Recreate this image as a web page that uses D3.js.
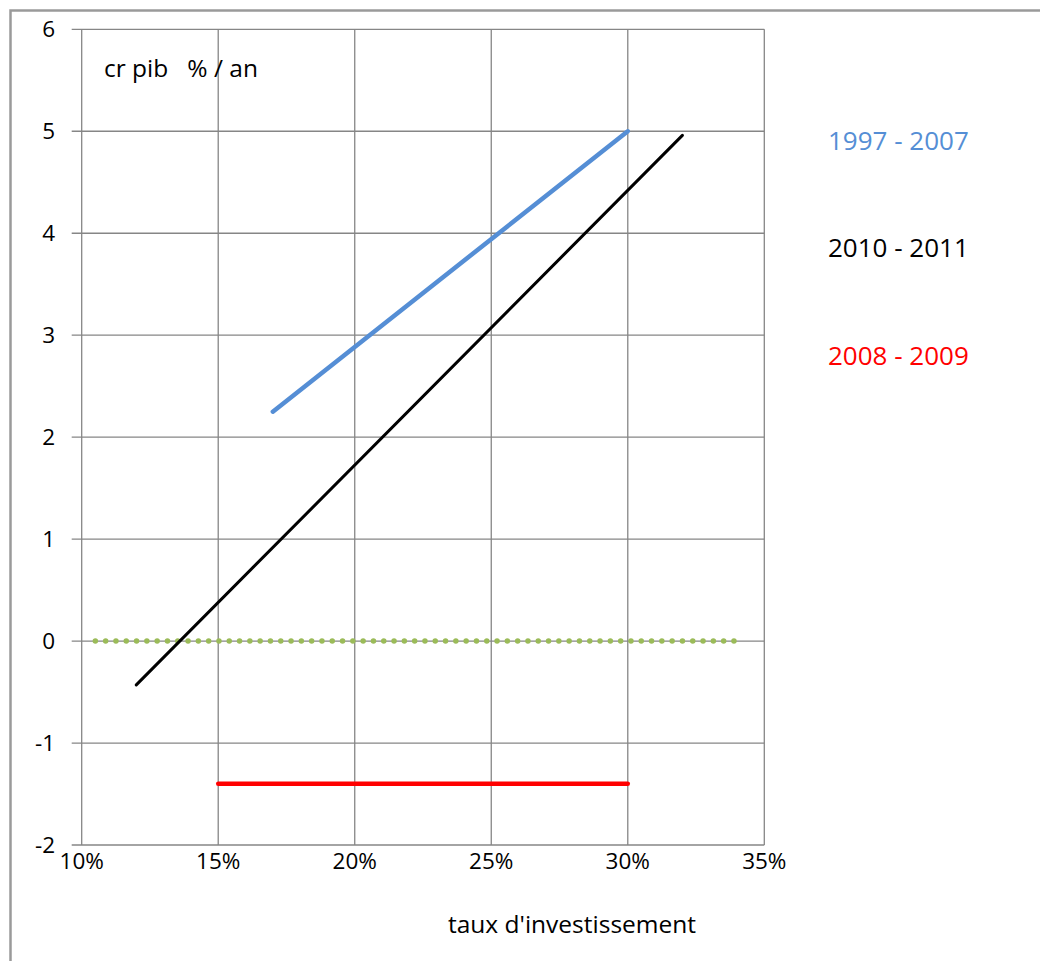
<!DOCTYPE html>
<html>
<head>
<meta charset="utf-8">
<script src="https://cdn.jsdelivr.net/npm/d3@7"></script>
<style>
  body { margin: 0; background: #fff; }
  text { font-family: "Open Sans", "Noto Sans", sans-serif; white-space: pre; }
</style>
</head>
<body>
<div id="chart"></div>
<script>
/* DATA */
var xTicks = [0.10, 0.15, 0.20, 0.25, 0.30, 0.35];
var yTicks = [-2, -1, 0, 1, 2, 3, 4, 5, 6];

var seriesNames = ["1997 - 2007", "2010 - 2011", "2008 - 2009"];
var seriesColors = ["#558ed5", "#000000", "#ff0000"];

var blueX = [0.17, 0.30];
var blueY = [2.25, 5.0];
var blackX = [0.12, 0.32];
var blackY = [-0.43, 4.96];
var redX = [0.15, 0.30];
var redY = [-1.4, -1.4];
var zeroX = [0.105, 0.342];
var zeroY = [0, 0];

/* SVG */
var width = 1040, height = 961;
var svg = d3.select("#chart").append("svg")
    .attr("width", width)
    .attr("height", height);

// chart area frame
svg.append("rect")
    .attr("x", 10.5).attr("y", 10.5)
    .attr("width", width + 20).attr("height", height + 20)
    .attr("fill", "none")
    .attr("stroke", "#9a9a9a")
    .attr("stroke-width", 2.5);

/* SCALES */
var x = d3.scaleLinear().domain([0.10, 0.35]).range([81.7, 764.3]);
var y = d3.scaleLinear().domain([-2, 6]).range([845, 29.3]);

/* GRID */
svg.append("g").selectAll("line")
    .data(yTicks).enter().append("line")
    .attr("x1", x(0.10) - 10).attr("x2", x(0.35))
    .attr("y1", function(d) { return y(d); })
    .attr("y2", function(d) { return y(d); })
    .attr("stroke", "#868686").attr("stroke-width", 1.3);

svg.append("g").selectAll("line")
    .data(xTicks).enter().append("line")
    .attr("x1", function(d) { return x(d); })
    .attr("x2", function(d) { return x(d); })
    .attr("y1", y(6)).attr("y2", y(-2))
    .attr("stroke", "#868686").attr("stroke-width", 1.3);

/* TICK LABELS */
svg.append("g").selectAll("text")
    .data(yTicks).enter().append("text")
    .attr("x", 55)
    .attr("y", function(d) { return y(d) + 8; })
    .attr("text-anchor", "end")
    .attr("font-size", 22.5)
    .attr("fill", "#000")
    .text(function(d) { return d; });

var fmt = d3.format(".0%");
svg.append("g").selectAll("text")
    .data(xTicks).enter().append("text")
    .attr("x", function(d) { return x(d); })
    .attr("y", 869)
    .attr("text-anchor", "middle")
    .attr("font-size", 22.5)
    .attr("fill", "#000")
    .text(function(d) { return fmt(d); });

svg.append("text")
    .attr("x", 572).attr("y", 933)
    .attr("text-anchor", "middle")
    .attr("font-size", 24.5)
    .attr("fill", "#000")
    .text("taux d'investissement");

svg.append("text")
    .attr("x", 104).attr("y", 77)
    .attr("font-size", 24.5)
    .attr("fill", "#000")
    .text("cr pib   % / an");

/* LINES */
var line = d3.line()
    .x(function(d) { return x(d[0]); })
    .y(function(d) { return y(d[1]); });

// zero reference, dotted green
svg.append("path")
    .attr("d", line(d3.zip(zeroX, zeroY)))
    .attr("fill", "none")
    .attr("stroke", "#9bbb59")
    .attr("stroke-width", 5.5)
    .attr("stroke-linecap", "round")
    .attr("stroke-dasharray", "0 10.3");

svg.append("path")
    .attr("d", line(d3.zip(blueX, blueY)))
    .attr("fill", "none")
    .attr("stroke", seriesColors[0])
    .attr("stroke-width", 4.5)
    .attr("stroke-linecap", "round");

svg.append("path")
    .attr("d", line(d3.zip(blackX, blackY)))
    .attr("fill", "none")
    .attr("stroke", seriesColors[1])
    .attr("stroke-width", 3)
    .attr("stroke-linecap", "round");

svg.append("path")
    .attr("d", line(d3.zip(redX, redY)))
    .attr("fill", "none")
    .attr("stroke", seriesColors[2])
    .attr("stroke-width", 4.5)
    .attr("stroke-linecap", "round");

/* LEGEND TEXTS */
var legendY = [149.5, 257, 365];
svg.append("g").selectAll("text")
    .data(seriesNames).enter().append("text")
    .attr("x", 828)
    .attr("y", function(d, i) { return legendY[i]; })
    .attr("font-size", 26)
    .attr("fill", function(d, i) { return seriesColors[i]; })
    .text(function(d) { return d; });
</script>
</body>
</html>
